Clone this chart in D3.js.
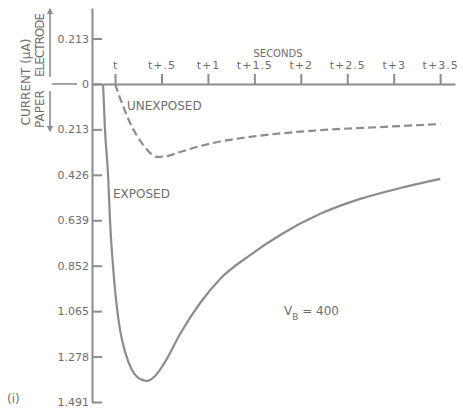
<!DOCTYPE html>
<html>
<head>
<meta charset="utf-8">
<script src="https://cdn.jsdelivr.net/npm/d3@7"></script>
<style>
  body { margin: 0; background: #fff; }
  text { font-family: "DejaVu Sans", sans-serif; fill: #6e6e6e; }
</style>
</head>
<body>
<svg id="chart" width="463" height="413"></svg>
<script>
// time after t (seconds) and current (uA, positive = electrode, negative = paper)
var exposedTime = [-0.129, -0.108, -0.075, -0.054, -0.022, 0.011, 0.054, 0.108, 0.183, 0.269,
    0.345, 0.431, 0.539, 0.700, 0.916, 1.131, 1.455, 1.778, 2.209, 2.640, 3.071, 3.502];
var exposedCurrent = [0, -0.216, -0.427, -0.642, -0.853, -1.013, -1.153, -1.256, -1.341, -1.383,
    -1.392, -1.369, -1.303, -1.172, -1.027, -0.914, -0.802, -0.708, -0.609, -0.539, -0.488, -0.445];

var unexposedTime = [0, 0.054, 0.108, 0.162, 0.237, 0.313, 0.377, 0.453, 0.539, 0.700, 0.916,
    1.131, 1.455, 1.778, 2.349, 2.856, 3.502];
var unexposedCurrent = [0, -0.066, -0.127, -0.183, -0.244, -0.291, -0.323, -0.342, -0.340,
    -0.319, -0.291, -0.270, -0.248, -0.232, -0.213, -0.202, -0.188];

var timeTicks = [0, 0.5, 1, 1.5, 2, 2.5, 3, 3.5];
var timeLabels = ["t", "t+.5", "t+1", "t+1.5", "t+2", "t+2.5", "t+3", "t+3.5"];
var currentTicks = [0.213, 0, -0.213, -0.426, -0.639, -0.852, -1.065, -1.278, -1.491];
var currentLabels = ["0.213", "0", "0.213", "0.426", "0.639", "0.852", "1.065", "1.278", "1.491"];

var grey = "#8c8c8c";
var svg = d3.select("#chart");

var xScale = d3.scaleLinear().domain([-0.248, 3.66]).range([92, 455]);
var yScale = d3.scaleLinear().domain([0.356, -1.491]).range([8, 402]);

// y axis, ticks pointing right, labels on the left
var y_axis = d3.axisLeft(yScale)
    .tickValues(currentTicks)
    .tickSizeInner(-10)
    .tickSizeOuter(0)
    .tickPadding(3)
    .tickFormat(function (d, i) { return currentLabels[i]; });

var gy = svg.append("g")
    .attr("transform", "translate(" + xScale(-0.248) + ",0)")
    .call(y_axis);
gy.selectAll("path, line").attr("stroke", grey).attr("stroke-width", 2);
gy.selectAll("text").style("font-size", "11px").attr("fill", "#6e6e6e");

// x axis along zero current, ticks pointing up
var x_axis = d3.axisTop(xScale)
    .tickValues(timeTicks)
    .tickSizeInner(10)
    .tickSizeOuter(0)
    .tickPadding(5)
    .tickFormat(function (d, i) { return timeLabels[i]; });

var gx = svg.append("g")
    .attr("transform", "translate(0," + yScale(0) + ")")
    .call(x_axis);
gx.selectAll("path, line").attr("stroke", grey).attr("stroke-width", 2);
gx.selectAll("text").style("font-size", "11px").style("letter-spacing", "1px").attr("fill", "#6e6e6e");

svg.append("text")
    .attr("x", 278).attr("y", 57)
    .attr("text-anchor", "middle")
    .style("font-size", "10px")
    .text("SECONDS");

// curves
var line = d3.line()
    .x(function (d) { return xScale(d.t); })
    .y(function (d) { return yScale(d.c); })
    .curve(d3.curveMonotoneX);

var exposed = exposedTime.map(function (t, i) { return { t: t, c: exposedCurrent[i] }; });
var unexposed = unexposedTime.map(function (t, i) { return { t: t, c: unexposedCurrent[i] }; });

svg.append("path")
    .datum(exposed)
    .attr("d", line)
    .attr("fill", "none")
    .attr("stroke", grey)
    .attr("stroke-width", 2.2);

svg.append("path")
    .datum(unexposed)
    .attr("d", line)
    .attr("fill", "none")
    .attr("stroke", grey)
    .attr("stroke-width", 2.2)
    .attr("stroke-dasharray", "8,4");

// curve labels
svg.append("text").attr("x", 127).attr("y", 110).style("font-size", "12px").text("UNEXPOSED");
svg.append("text").attr("x", 113).attr("y", 198).style("font-size", "12px").text("EXPOSED");

var vb = svg.append("text").attr("x", 284).attr("y", 315).style("font-size", "12px");
vb.append("tspan").text("V");
vb.append("tspan").attr("dy", 5).style("font-size", "9px").text("B");
vb.append("tspan").attr("dy", -5).text(" = 400");

svg.append("text").attr("x", 7).attr("y", 403).style("font-size", "12px").text("(i)");

// left axis title
svg.append("text")
    .attr("transform", "translate(30,82) rotate(-90)")
    .attr("text-anchor", "middle")
    .style("font-size", "12px")
    .text("CURRENT (\u03bcA)");
svg.append("text")
    .attr("transform", "translate(44,45) rotate(-90)")
    .attr("text-anchor", "middle")
    .attr("textLength", 64)
    .style("font-size", "12px")
    .text("ELECTRODE");
svg.append("text")
    .attr("transform", "translate(44,109) rotate(-90)")
    .attr("text-anchor", "middle")
    .style("font-size", "12px")
    .text("PAPER");

// direction arrows and separator
var defs = svg.append("defs");
defs.append("marker")
    .attr("id", "arrow")
    .attr("viewBox", "0 0 10 10")
    .attr("refX", 8).attr("refY", 5)
    .attr("markerWidth", 4).attr("markerHeight", 4)
    .attr("orient", "auto")
    .append("path")
    .attr("d", "M0,0 L10,5 L0,10 Z")
    .attr("fill", grey);

svg.append("line")
    .attr("x1", 50).attr("y1", 77).attr("x2", 50).attr("y2", 9)
    .attr("stroke", grey).attr("stroke-width", 1.6)
    .attr("marker-end", "url(#arrow)");
svg.append("line")
    .attr("x1", 50).attr("y1", 91).attr("x2", 50).attr("y2", 131)
    .attr("stroke", grey).attr("stroke-width", 1.6)
    .attr("marker-end", "url(#arrow)");
svg.append("line")
    .attr("x1", 52).attr("y1", yScale(0)).attr("x2", 77).attr("y2", yScale(0))
    .attr("stroke", grey).attr("stroke-width", 1.6);
</script>
</body>
</html>
